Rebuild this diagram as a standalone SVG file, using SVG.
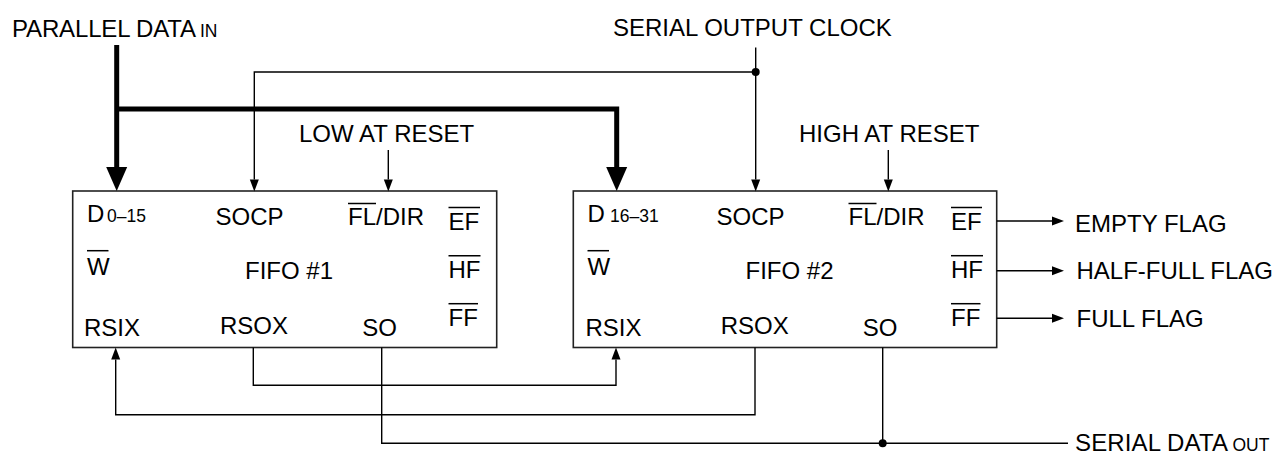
<svg xmlns="http://www.w3.org/2000/svg" width="1276" height="453" viewBox="0 0 1276 453">
<style>
text{font-family:"Liberation Sans",Arial,Helvetica,sans-serif;font-size:24px;fill:#000}
.s{font-size:17.5px}
.box{fill:#fff;stroke:#222;stroke-width:1.6}
.ov{stroke:#000;stroke-width:1.5}
.w{fill:none;stroke:#000;stroke-width:1.4}
.a{fill:none;stroke:#000;stroke-width:1.4;marker-end:url(#ah)}
.bus{fill:none;stroke:#000;stroke-width:5}
.busa{fill:none;stroke:#000;stroke-width:5;marker-end:url(#bh)}
.dot{fill:#000}
</style>
<defs>
<marker id="ah" markerUnits="userSpaceOnUse" markerWidth="12" markerHeight="9" refX="0" refY="4.5" orient="auto" overflow="visible"><path d="M0,0 L12,4.5 L0,9 z" fill="#000"/></marker>
<marker id="bh" markerUnits="userSpaceOnUse" markerWidth="24" markerHeight="21" refX="0" refY="10.5" orient="auto" overflow="visible"><path d="M0,0 L24,10.5 L0,21 z" fill="#000"/></marker>
</defs>
<rect width="1276" height="453" fill="#fff"/>
<g id="labels">
<text x="12" y="36.5"><tspan textLength="184" lengthAdjust="spacing">PARALLEL DATA</tspan><tspan class="s" x="200">IN</tspan></text>
<text x="613" y="35.5">SERIAL OUTPUT CLOCK</text>
<text x="299" y="142">LOW AT RESET</text>
<text x="799" y="142">HIGH AT RESET</text>
<text x="1075" y="231.7">EMPTY FLAG</text>
<text x="1076.5" y="279.3">HALF-FULL FLAG</text>
<text x="1076.5" y="326.7">FULL FLAG</text>
<text x="1075" y="450.5"><tspan textLength="153" lengthAdjust="spacing">SERIAL DATA</tspan><tspan class="s" x="1232.5">OUT</tspan></text>
</g>
<g id="fifo1">
<rect class="box" x="72.7" y="191" width="424" height="156.5"/>
<text x="87" y="222">D<tspan class="s" x="107">0–15</tspan></text>
<text x="215.5" y="224.5">SOCP</text>
<text x="348" y="225">FL/DIR</text>
<line class="ov" x1="348" y1="203.5" x2="376" y2="203.5"/>
<text x="448.5" y="230">EF</text>
<line class="ov" x1="448.5" y1="207.5" x2="480" y2="207.5"/>
<text x="87" y="274.5">W</text>
<line class="ov" x1="87" y1="250.7" x2="108.5" y2="250.7"/>
<text x="245" y="278.7">FIFO #1</text>
<text x="448.5" y="278">HF</text>
<line class="ov" x1="448.5" y1="255.7" x2="480.5" y2="255.7"/>
<text x="448.5" y="326.3">FF</text>
<line class="ov" x1="448.5" y1="303.7" x2="478" y2="303.7"/>
<text x="84" y="335.7">RSIX</text>
<text x="220" y="333.7">RSOX</text>
<text x="362.3" y="335.7">SO</text>
</g>
<g id="fifo2">
<rect class="box" x="573.3" y="191" width="423.4" height="156.5"/>
<text x="587.5" y="222">D<tspan class="s" x="610">16–31</tspan></text>
<text x="716.5" y="224.5">SOCP</text>
<text x="848.5" y="225">FL/DIR</text>
<line class="ov" x1="848.5" y1="203.5" x2="876.5" y2="203.5"/>
<text x="951" y="230">EF</text>
<line class="ov" x1="951" y1="207.5" x2="982" y2="207.5"/>
<text x="587.5" y="274.5">W</text>
<line class="ov" x1="587.5" y1="250.7" x2="609" y2="250.7"/>
<text x="745.5" y="278.7">FIFO #2</text>
<text x="951" y="278">HF</text>
<line class="ov" x1="951" y1="255.7" x2="983" y2="255.7"/>
<text x="951" y="326.3">FF</text>
<line class="ov" x1="951" y1="303.7" x2="980.5" y2="303.7"/>
<text x="585.5" y="335.7">RSIX</text>
<text x="720.7" y="333.7">RSOX</text>
<text x="862.7" y="335.7">SO</text>
</g>
<g id="connectors">
<polyline class="busa" points="116.7,45 116.7,167"/>
<polyline class="busa" points="116.7,109 616.7,109 616.7,167"/>
<polyline class="a" points="755.7,72 254.3,72 254.3,179.5"/>
<polyline class="a" points="755.7,47.5 755.7,179.5"/>
<circle class="dot" cx="755.7" cy="72" r="4"/>
<polyline class="a" points="388.3,150 388.3,179.5"/>
<polyline class="a" points="888.3,150 888.3,179.5"/>
<polyline class="a" points="996.7,221 1052,221"/>
<polyline class="a" points="996.7,270.7 1052,270.7"/>
<polyline class="a" points="996.7,318.3 1052,318.3"/>
<polyline class="a" points="253.3,347.5 253.3,385.3 616,385.3 616,359.5"/>
<polyline class="a" points="755,347.5 755,414.7 115.7,414.7 115.7,359.5"/>
<polyline class="w" points="381.7,347.5 381.7,443.3 1068,443.3"/>
<polyline class="w" points="882.7,347.5 882.7,443.3"/>
<circle class="dot" cx="882.7" cy="443.3" r="4"/>
</g>
</svg>
